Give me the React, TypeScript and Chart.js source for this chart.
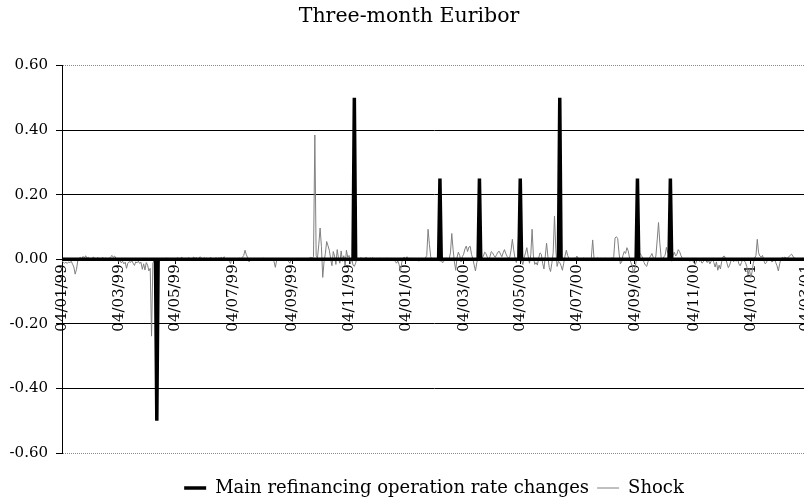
import { useEffect, useRef } from 'react';
import { Chart, registerables } from 'chart.js';

Chart.register(...registerables);

const FONT = 'DejaVu Serif';

// First trading day of the daily series (dd/mm/yy)
const firstDay = '04/01/99';

// Axis labels, every two months
const tickLabels = [
  '04/01/99', '04/03/99', '04/05/99', '04/07/99', '04/09/99', '04/11/99',
  '04/01/00', '04/03/00', '04/05/00', '04/07/00', '04/09/00', '04/11/00',
  '04/01/01', '04/03/01',
];

// ECB main refinancing operation rate changes (settlement dates, percentage points)
const rateChangeDates = [
  '14/04/99', '10/11/99', '09/02/00', '22/03/00', '04/05/00', '15/06/00', '06/09/00', '11/10/00',
];
const rateChangeValues = [-0.5, 0.5, 0.25, 0.25, 0.25, 0.5, 0.25, 0.25];

// Daily shock to the three-month Euribor, one value per trading day from 04/01/99
const shock: number[] = [
  // 1999
  -0.004, -0.010, -0.012, -0.009, -0.013, -0.008, -0.011, -0.006, -0.015, -0.024,
  -0.046, -0.031, -0.004, 0.003, 0.006, 0.002, 0.009, 0.004, 0.011, 0.003,
  0.006, 0.002, -0.003, 0.004, 0.007, 0.001, -0.002, 0.005, 0.003, -0.004,
  0.002, 0.006, -0.001, 0.004, 0.002, -0.003, 0.003, 0.008, 0.012, 0.006,
  0.010, 0.003, -0.004, -0.008, -0.003, -0.011, -0.006, -0.014, -0.009, -0.028,
  -0.012, -0.007, -0.010, -0.004, -0.012, -0.019, -0.008, -0.011, -0.006, -0.013,
  -0.009, -0.031, -0.014, -0.033, -0.010, -0.018, -0.036, -0.028, -0.238, -0.012,
  -0.004, -0.008, -0.003, -0.010, -0.005, 0.002, -0.004, 0.001, -0.003, 0.004,
  0.002, -0.002, 0.003, 0.001, -0.003, 0.004, -0.006, 0.002, 0.005, -0.001,
  0.003, 0.006, 0.002, -0.002, 0.004, 0.001, 0.005, 0.003, -0.002, 0.004,
  0.007, 0.002, 0.005, 0.001, 0.004, 0.008, 0.003, -0.001, 0.005, 0.002,
  0.004, -0.002, 0.003, 0.006, 0.001, -0.003, 0.002, 0.005, 0.001, 0.004,
  0.003, 0.006, 0.002, 0.008, 0.004, -0.002, 0.003, -0.006, -0.013, 0.002,
  -0.004, 0.003, 0.001, -0.003, 0.002, 0.004, -0.001, 0.006, 0.012, 0.028,
  0.014, 0.005, -0.008, -0.003, 0.002, -0.004, 0.001, -0.002, 0.003, -0.005,
  0.001, -0.003, 0.002, 0.004, -0.002, 0.001, -0.004, 0.002, -0.003, 0.001,
  -0.002, -0.006, -0.025, -0.004, 0.002, -0.003, 0.001, -0.002, 0.003, -0.004,
  0.002, -0.003, -0.006, -0.012, -0.003, 0.001, -0.002, 0.003, -0.003, 0.002,
  -0.002, 0.001, -0.004, 0.002, -0.001, 0.003, -0.003, 0.001, 0.004, 0.006,
  0.003, 0.008, 0.385, 0.012, 0.004, 0.045, 0.097, 0.040, -0.056, -0.008,
  0.018, 0.055, 0.042, 0.028, 0.002, -0.020, 0.024, 0.010, -0.016, 0.030,
  0.002, -0.012, 0.026, -0.006, 0.011, -0.021, 0.028, 0.006, 0.012, -0.014,
  0.003, -0.018, -0.022, -0.012, 0.004, -0.003, 0.002, 0.005, 0.001, -0.002,
  0.003, 0.006, 0.002, -0.001, 0.004, 0.002, 0.005, 0.001, -0.002, 0.003,
  0.001, 0.004, -0.002, 0.003, 0.001, -0.003, 0.002, 0.004, -0.001, 0.002,
  -0.004, 0.001, -0.002, -0.006, -0.012, -0.005, -0.016, -0.040, -0.010, 0.004,
  // 2000
  0.006, 0.002, 0.008, 0.003, -0.002, 0.004, 0.001, -0.004, 0.002, -0.003,
  0.003, -0.006, 0.001, -0.004, 0.002, -0.003, 0.004, 0.012, 0.093, 0.046,
  0.008, -0.003, 0.002, -0.004, 0.001, -0.002, 0.003, -0.006, -0.003, -0.011,
  -0.006, 0.002, 0.004, -0.004, 0.001, 0.020, 0.080, 0.030, -0.008, -0.034,
  0.006, 0.022, 0.012, -0.008, 0.008, 0.016, 0.032, 0.041, 0.024, 0.038,
  0.040, 0.015, 0.002, -0.018, -0.036, -0.010, 0.004, 0.008, 0.012, 0.004,
  0.010, 0.022, 0.018, 0.006, 0.002, 0.008, 0.024, 0.020, 0.012, 0.006,
  0.014, 0.022, 0.025, 0.016, 0.008, 0.020, 0.030, 0.018, 0.009, 0.004,
  0.006, 0.028, 0.062, 0.030, 0.004, -0.010, 0.008, 0.100, 0.012, -0.004,
  -0.016, 0.006, 0.020, 0.036, 0.010, -0.012, 0.014, 0.093, 0.010, -0.016,
  -0.010, -0.018, 0.004, 0.020, 0.016, -0.012, -0.030, 0.010, 0.050, 0.008,
  -0.025, -0.038, -0.012, 0.020, 0.134, 0.030, -0.022, -0.006, -0.010, -0.020,
  -0.034, -0.012, 0.010, 0.028, 0.012, 0.002, -0.004, 0.003, -0.002, 0.004,
  0.001, 0.010, 0.003, -0.004, 0.002, -0.002, 0.004, 0.001, -0.003, 0.003,
  0.002, -0.002, 0.006, 0.060, 0.004, -0.003, 0.002, 0.005, -0.002, 0.003,
  0.001, -0.004, 0.002, 0.004, -0.001, 0.003, -0.002, 0.004, 0.002, 0.008,
  0.066, 0.070, 0.064, 0.020, -0.014, -0.008, 0.012, 0.024, 0.018, 0.036,
  0.026, 0.004, -0.010, -0.020, -0.042, -0.030, -0.006, 0.010, 0.028, 0.018,
  0.012, 0.004, -0.010, -0.018, -0.022, -0.008, 0.004, 0.010, 0.018, 0.006,
  -0.002, 0.010, 0.060, 0.114, 0.050, 0.006, -0.004, 0.008, 0.012, 0.037,
  0.020, 0.030, 0.004, -0.006, 0.012, 0.022, 0.010, 0.016, 0.030, 0.024,
  0.012, 0.004, -0.002, 0.003, -0.004, 0.001, -0.003, -0.006, 0.002, -0.004,
  -0.012, -0.016, -0.004, 0.002, -0.006, -0.002, -0.012, -0.008, 0.001, -0.004,
  -0.010, -0.003, -0.014, -0.006, 0.002, -0.010, -0.024, -0.008, -0.034, -0.018,
  -0.030, -0.006, 0.008, 0.010, 0.002, -0.012, -0.026, -0.018, -0.004, 0.004,
  -0.008, 0.002, -0.006, 0.003, -0.014, -0.020, -0.010, 0.002, -0.004, -0.010,
  -0.022, -0.048, -0.030,
  // 2001
  -0.056, -0.040, -0.012, 0.004, 0.012, 0.062, 0.020,
  0.010, 0.006, 0.012, -0.004, -0.014, -0.010, 0.002, -0.003, 0.004, -0.008,
  -0.006, 0.002, -0.010, -0.020, -0.036, -0.014, 0.002, 0.006, 0.004, 0.007,
  0.003, 0.005, 0.008, 0.012, 0.016, 0.010, 0.004, 0.002, -0.003, 0.003,
  0.001, -0.002, 0.004, 0.002, -0.004, 0.001,
];

function parseDate(s: string): number {
  const [d, m, y] = s.split('/').map(Number);
  const year = y > 50 ? 1900 + y : 2000 + y;
  return Date.UTC(year, m - 1, d);
}

// Weekday calendar matching the daily series
function tradingDays(start: string, count: number): number[] {
  const out: number[] = [];
  const day = 24 * 3600 * 1000;
  let t = parseDate(start);
  while (out.length < count) {
    const wd = new Date(t).getUTCDay();
    if (wd !== 0 && wd !== 6) out.push(t);
    t += day;
  }
  return out;
}

export default function App() {
  const canvasRef = useRef<HTMLCanvasElement | null>(null);

  useEffect(() => {
    const canvas = canvasRef.current;
    if (!canvas) return;

    const days = tradingDays(firstDay, shock.length);
    const indexOf = (s: string) => {
      const t = parseDate(s);
      return days.findIndex((d) => d >= t);
    };

    const rateChanges = days.map(() => 0);
    rateChangeDates.forEach((d, k) => {
      const i = indexOf(d);
      if (i >= 0) rateChanges[i] = rateChangeValues[k];
    });

    const labelAt = new Map<number, string>();
    tickLabels.forEach((s) => {
      const i = indexOf(s);
      if (i >= 0) labelAt.set(i, s);
    });
    const tickIdx = Array.from(labelAt.keys());

    const isEdge = (v: number | undefined) =>
      v !== undefined && Math.abs(Math.abs(v) - 0.6) < 1e-6;

    const chart = new Chart(canvas, {
      type: 'line',
      data: {
        datasets: [
          {
            label: 'Main refinancing operation rate changes',
            data: rateChanges.map((y, x) => ({ x, y })),
            borderColor: '#000',
            backgroundColor: '#000',
            borderWidth: 3.5,
            pointRadius: 0,
            tension: 0,
          },
          {
            label: 'Shock',
            data: shock.map((y, x) => ({ x, y })),
            borderColor: '#808080',
            backgroundColor: '#808080',
            borderWidth: 1,
            pointRadius: 0,
            tension: 0,
          },
        ],
      },
      options: {
        responsive: false,
        animation: false,
        devicePixelRatio: 1,
        events: [],
        layout: { padding: { left: 0, right: 7, top: 0, bottom: -4 } },
        plugins: {
          title: {
            display: true,
            text: 'Three-month Euribor',
            color: '#000',
            font: { family: FONT, size: 20.5, weight: 'normal' },
            padding: { top: 4, bottom: 37 },
          },
          legend: {
            position: 'bottom',
            fullSize: false,
            title: { display: true, text: '', padding: 1.8 },
            labels: {
              color: '#000',
              font: { family: FONT, size: 18 },
              usePointStyle: true,
              pointStyle: 'line',
              pointStyleWidth: 22,
              padding: 8,
            },
          },
          tooltip: { enabled: false },
        },
        scales: {
          x: {
            type: 'linear',
            min: 0,
            max: days.length - 1,
            position: { y: 0 },
            afterBuildTicks: (scale: any) => {
              scale.ticks = tickIdx.map((v) => ({ value: v }));
            },
            ticks: {
              autoSkip: false,
              minRotation: 90,
              maxRotation: 90,
              padding: 1,
              color: '#000',
              font: { family: FONT, size: 15 },
              callback: (v: any) => labelAt.get(Number(v)) ?? '',
            },
            grid: {
              drawOnChartArea: false,
              drawTicks: true,
              tickLength: 4,
              color: '#000',
            },
            border: { display: true, color: '#000', width: 1 },
          },
          y: {
            min: -0.6,
            max: 0.6,
            afterFit: (scale: any) => {
              scale.width = 62;
            },
            ticks: {
              stepSize: 0.2,
              padding: 8,
              color: '#000',
              font: { family: FONT, size: 15 },
              callback: (v: any) => Number(v).toFixed(2),
            },
            grid: {
              color: (ctx: any) => (isEdge(ctx.tick?.value) ? '#8a8a8a' : '#000'),
              tickColor: '#000',
              tickLength: 6,
              lineWidth: 1,
            },
            border: {
              color: '#000',
              dash: (ctx: any) => (isEdge(ctx.tick?.value) ? [1, 1] : []),
            },
          },
        },
      },
    } as any);

    return () => chart.destroy();
  }, []);

  return (
    <div
      style={{
        position: 'fixed',
        left: 0,
        top: 0,
        width: 804,
        height: 503,
        overflow: 'hidden',
        background: '#fff',
      }}
    >
      <canvas
        ref={canvasRef}
        width={825}
        height={503}
        style={{ display: 'block', width: 825, height: 503 }}
      />
    </div>
  );
}
